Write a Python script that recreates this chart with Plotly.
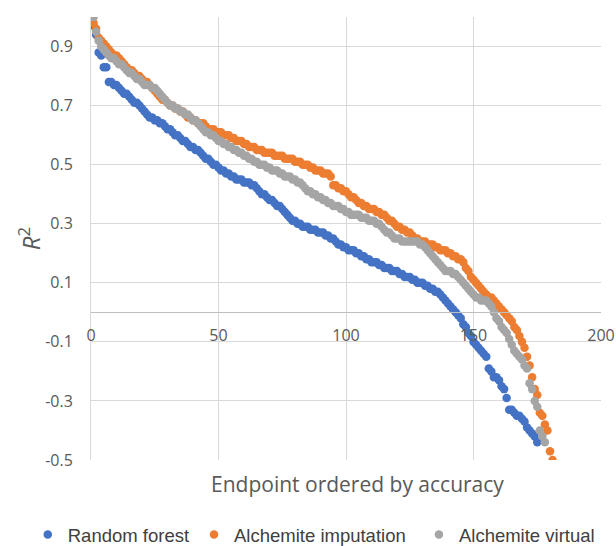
import plotly.graph_objects as go

# ---- data ----
series_names = ["Random forest", "Alchemite imputation", "Alchemite virtual"]

random_forest = [
    0.97, 0.94, 0.88, 0.87, 0.83, 0.83, 0.78, 0.78, 0.77, 0.77,
    0.76, 0.75, 0.74, 0.74, 0.73, 0.72, 0.71, 0.71, 0.70, 0.69,
    0.68, 0.67, 0.66, 0.66, 0.65, 0.65, 0.64, 0.64, 0.63, 0.62,
    0.62, 0.61, 0.60, 0.60, 0.59, 0.58, 0.58, 0.57, 0.56, 0.56,
    0.55, 0.55, 0.54, 0.53, 0.52, 0.52, 0.51, 0.50, 0.50, 0.49,
    0.48, 0.48, 0.47, 0.47, 0.46, 0.46, 0.45, 0.45, 0.45, 0.44,
    0.44, 0.44, 0.43, 0.43, 0.42, 0.41, 0.40, 0.40, 0.39, 0.38,
    0.38, 0.37, 0.36, 0.36, 0.35, 0.34, 0.33, 0.32, 0.31, 0.31,
    0.30, 0.30, 0.29, 0.29, 0.29, 0.28, 0.28, 0.28, 0.27, 0.27,
    0.27, 0.26, 0.26, 0.25, 0.25, 0.24, 0.23, 0.23, 0.22, 0.22,
    0.21, 0.21, 0.21, 0.20, 0.20, 0.19, 0.19, 0.18, 0.18, 0.17,
    0.17, 0.17, 0.16, 0.16, 0.15, 0.15, 0.15, 0.14, 0.14, 0.14,
    0.13, 0.13, 0.12, 0.12, 0.12, 0.11, 0.11, 0.10, 0.10, 0.10,
    0.09, 0.09, 0.08, 0.08, 0.07, 0.07, 0.06, 0.05, 0.04, 0.03,
    0.02, 0.01, 0.00, -0.01, -0.02, -0.04, -0.05, -0.07, -0.08, -0.10,
    -0.11, -0.12, -0.13, -0.14, -0.15, -0.19, -0.20, -0.22, -0.22, -0.23,
    -0.25, -0.26, -0.29, -0.33, -0.33, -0.34, -0.35, -0.35, -0.36, -0.37,
    -0.39, -0.40, -0.41, -0.42, -0.44,
]

alchemite_imputation = [
    0.98, 0.96, 0.93, 0.92, 0.91, 0.90, 0.89, 0.88, 0.87, 0.87,
    0.86, 0.85, 0.84, 0.83, 0.82, 0.82, 0.81, 0.80, 0.80, 0.79,
    0.78, 0.78, 0.77, 0.76, 0.75, 0.74, 0.73, 0.72, 0.72, 0.71,
    0.70, 0.70, 0.69, 0.69, 0.68, 0.68, 0.67, 0.66, 0.66, 0.65,
    0.65, 0.64, 0.64, 0.64, 0.63, 0.62, 0.62, 0.62, 0.61, 0.61,
    0.61, 0.60, 0.60, 0.60, 0.59, 0.59, 0.58, 0.58, 0.58, 0.57,
    0.57, 0.56, 0.56, 0.56, 0.55, 0.55, 0.55, 0.54, 0.54, 0.54,
    0.54, 0.53, 0.53, 0.53, 0.53, 0.52, 0.52, 0.52, 0.52, 0.51,
    0.51, 0.51, 0.50, 0.50, 0.50, 0.49, 0.49, 0.48, 0.48, 0.48,
    0.47, 0.47, 0.47, 0.46, 0.43, 0.43, 0.42, 0.42, 0.41, 0.41,
    0.40, 0.39, 0.39, 0.38, 0.37, 0.37, 0.36, 0.36, 0.35, 0.35,
    0.35, 0.34, 0.34, 0.33, 0.33, 0.32, 0.31, 0.31, 0.30, 0.29,
    0.29, 0.28, 0.28, 0.27, 0.27, 0.26, 0.25, 0.25, 0.24, 0.24,
    0.24, 0.23, 0.23, 0.23, 0.22, 0.22, 0.21, 0.21, 0.21, 0.20,
    0.20, 0.19, 0.19, 0.18, 0.18, 0.17, 0.15, 0.14, 0.12, 0.11,
    0.10, 0.09, 0.08, 0.07, 0.06, 0.05, 0.05, 0.04, 0.03, 0.02,
    0.01, 0.00, -0.01, -0.02, -0.03, -0.05, -0.06, -0.08, -0.10, -0.12,
    -0.15, -0.18, -0.22, -0.26, -0.28, -0.34, -0.35, -0.38, -0.40, -0.47,
    -0.50,
]

alchemite_virtual = [
    1.00, 0.95, 0.92, 0.90, 0.89, 0.88, 0.87, 0.86, 0.86, 0.85,
    0.84, 0.84, 0.83, 0.82, 0.81, 0.81, 0.80, 0.79, 0.79, 0.78,
    0.77, 0.77, 0.77, 0.76, 0.76, 0.75, 0.74, 0.73, 0.72, 0.71,
    0.70, 0.70, 0.69, 0.69, 0.68, 0.68, 0.67, 0.67, 0.66, 0.65,
    0.65, 0.64, 0.63, 0.62, 0.61, 0.61, 0.60, 0.60, 0.59, 0.58,
    0.58, 0.57, 0.57, 0.56, 0.56, 0.55, 0.55, 0.54, 0.54, 0.53,
    0.53, 0.52, 0.52, 0.51, 0.51, 0.50, 0.50, 0.50, 0.49, 0.49,
    0.48, 0.48, 0.48, 0.47, 0.47, 0.46, 0.46, 0.46, 0.45, 0.45,
    0.44, 0.44, 0.43, 0.42, 0.41, 0.41, 0.40, 0.40, 0.39, 0.39,
    0.38, 0.38, 0.37, 0.37, 0.36, 0.36, 0.36, 0.35, 0.35, 0.34,
    0.34, 0.33, 0.33, 0.33, 0.33, 0.32, 0.32, 0.32, 0.31, 0.31,
    0.31, 0.30, 0.30, 0.29, 0.28, 0.27, 0.27, 0.26, 0.25, 0.25,
    0.25, 0.24, 0.24, 0.24, 0.24, 0.24, 0.24, 0.24, 0.23, 0.23,
    0.22, 0.21, 0.20, 0.19, 0.18, 0.17, 0.16, 0.15, 0.14, 0.14,
    0.14, 0.13, 0.13, 0.12, 0.11, 0.10, 0.09, 0.08, 0.07, 0.06,
    0.05, 0.05, 0.04, 0.04, 0.04, 0.03, 0.02, 0.00, -0.02, -0.03,
    -0.05, -0.06, -0.07, -0.09, -0.11, -0.13, -0.14, -0.15, -0.16, -0.18,
    -0.19, -0.24, -0.26, -0.30, -0.32, -0.40, -0.42, -0.44,
]

colors = ["#4472C4", "#ED7D31", "#A5A5A5"]

x_ticks = [0, 50, 100, 150, 200]
y_ticks = [-0.5, -0.3, -0.1, 0.1, 0.3, 0.5, 0.7, 0.9]
x_range = [0, 200]
y_range = [-0.5, 1.0]

x_title = "Endpoint ordered by accuracy"
y_title = "<i>R</i><sup>2</sup>"

# ---- figure ----
legend_ids = ["legend", "legend2", "legend3"]
legend_x = [-0.124, 0.202, 0.643]

fig = go.Figure()
for name, vals, col, lid in zip(series_names,
                                [random_forest, alchemite_imputation, alchemite_virtual],
                                colors, legend_ids):
    fig.add_trace(go.Scatter(
        x=list(range(1, len(vals) + 1)), y=vals, mode="markers", name=name,
        marker=dict(color=col, size=8.5, line=dict(width=0)),
        legend=lid,
    ))

zero_pos = (0 - y_range[0]) / (y_range[1] - y_range[0])
tick_font = dict(family="Open Sans", size=16, color="#595959")

legend_common = dict(
    orientation="h", xanchor="left", y=-0.169, yanchor="middle",
    font=dict(family="Liberation Sans", size=18.5, color="#404040"),
    itemsizing="trace", bgcolor="rgba(0,0,0,0)",
)

fig.update_layout(
    width=616, height=546,
    margin=dict(l=91, r=15, t=17, b=86, autoexpand=False),
    paper_bgcolor="white", plot_bgcolor="white",
    showlegend=True,
    legend=dict(x=legend_x[0], **legend_common),
    legend2=dict(x=legend_x[1], **legend_common),
    legend3=dict(x=legend_x[2], **legend_common),
    xaxis=dict(
        range=x_range, tickvals=x_ticks, ticktext=[str(v) for v in x_ticks],
        showgrid=True, gridcolor="#D9D9D9", gridwidth=1,
        zeroline=False, showline=True, linecolor="#BFBFBF", linewidth=1,
        anchor="free", position=zero_pos, ticks="", tickfont=tick_font,
        ticklabelstandoff=8,
    ),
    yaxis=dict(
        range=y_range, tickvals=y_ticks,
        ticktext=[f"{v:.1f}" for v in y_ticks],
        showgrid=True, gridcolor="#D9D9D9", gridwidth=1,
        zeroline=False, showline=True, linecolor="#D9D9D9", linewidth=1,
        ticks="", tickfont=tick_font, ticklabelstandoff=14,
    ),
    annotations=[
        dict(text=x_title, xref="paper", yref="paper", x=0.5235, y=-0.054,
             xanchor="center", yanchor="middle", showarrow=False,
             font=dict(family="Open Sans", size=21, color="#595959")),
        dict(text=y_title, xref="paper", yref="paper", x=-0.12, y=0.5,
             xanchor="center", yanchor="middle", showarrow=False, textangle=-90,
             font=dict(family="Open Sans", size=24, color="#595959")),
    ],
)

fig.write_html("out.html")
